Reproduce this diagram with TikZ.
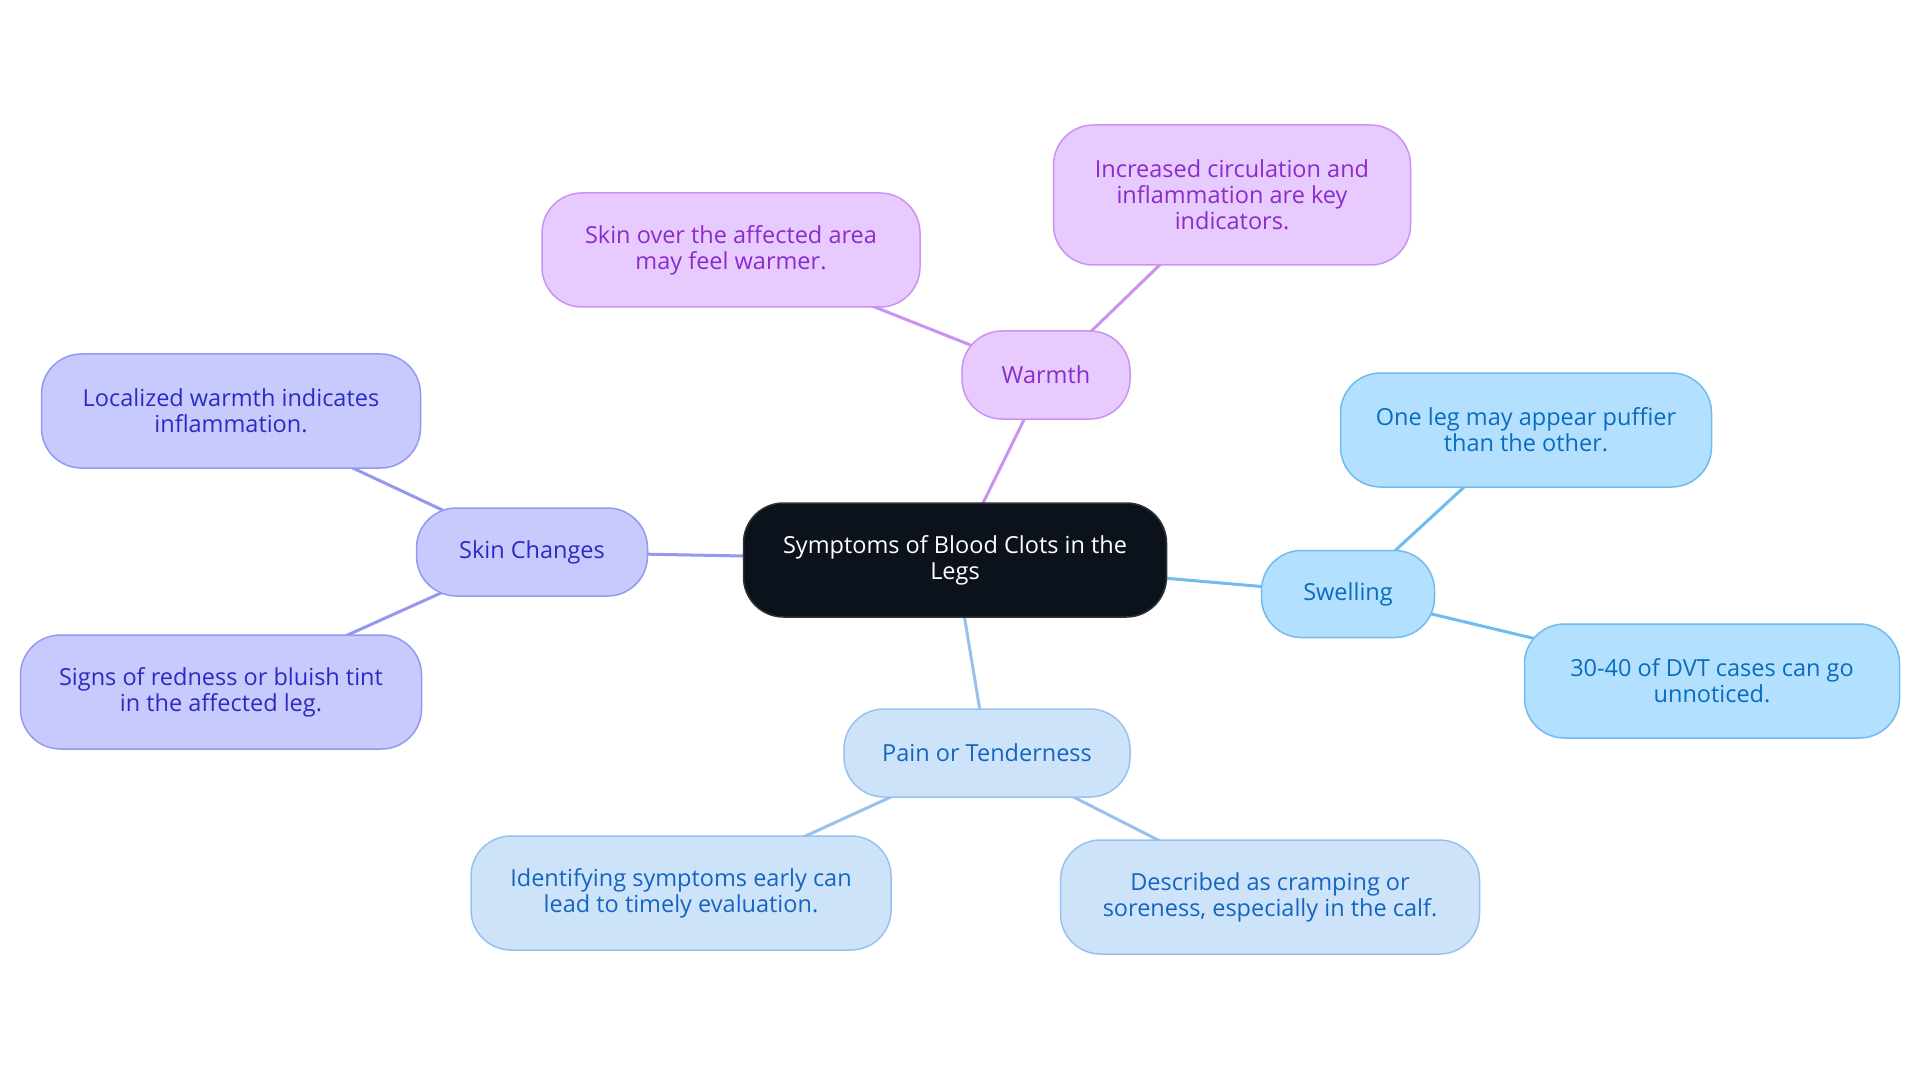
\documentclass[tikz,border=0pt]{standalone}
\usepackage{fontspec}
\setmainfont{Open Sans}
\usetikzlibrary{backgrounds}
\definecolor{cfill}{HTML}{0C121B}
\definecolor{wfill}{HTML}{E8CBFE}
\definecolor{wdraw}{HTML}{CB92F2}
\definecolor{wtext}{HTML}{8A2BCB}
\definecolor{sfill}{HTML}{B3E0FE}
\definecolor{sdraw}{HTML}{70BBEF}
\definecolor{stext}{HTML}{0A6CBE}
\definecolor{kfill}{HTML}{C8CAFE}
\definecolor{kdraw}{HTML}{9598EF}
\definecolor{ktext}{HTML}{2B2BC2}
\definecolor{pfill}{HTML}{CDE3FA}
\definecolor{pdraw}{HTML}{98C2EE}
\definecolor{ptext}{HTML}{1565C0}
\tikzset{
  box/.style={rounded corners=40pt, line width=1.5pt, align=center, inner sep=0pt,
    font=\fontsize{23.5}{26}\selectfont},
  center/.style={box, fill=cfill, draw=cfill!70!gray, text=white},
  warm/.style={box, fill=wfill, draw=wdraw, text=wtext},
  swel/.style={box, fill=sfill, draw=sdraw, text=stext},
  skin/.style={box, fill=kfill, draw=kdraw, text=ktext},
  pain/.style={box, fill=pfill, draw=pdraw, text=ptext},
  wline/.style={draw=wdraw, line width=3pt},
  sline/.style={draw=sdraw, line width=3pt},
  kline/.style={draw=kdraw, line width=3pt},
  pline/.style={draw=pdraw, line width=3pt},
}
\begin{document}
\begin{tikzpicture}[x=1pt,y=-1pt]
\useasboundingbox (0,0) rectangle (1920,1083);

\node[center, minimum width=423pt, minimum height=114pt] (c) at (955,560) {Symptoms of Blood Clots in the\\Legs};
\node[warm, minimum width=168pt, minimum height=88pt] (w) at (1046,375) {Warmth};
\node[warm, minimum width=378pt, minimum height=114pt] (w1) at (731,250) {Skin over the affected area\\may feel warmer.};
\node[warm, minimum width=357pt, minimum height=140pt] (w2) at (1232,195) {Increased circulation and\\inflammation are key\\indicators.};
\node[skin, minimum width=231pt, minimum height=88pt] (k) at (532,552) {Skin Changes};
\node[skin, minimum width=379pt, minimum height=114pt] (k1) at (231,411) {Localized warmth indicates\\inflammation.};
\node[skin, minimum width=401pt, minimum height=114pt] (k2) at (221,692) {Signs of redness or bluish tint\\in the affected leg.};
\node[swel, minimum width=173pt, minimum height=87pt] (s) at (1348,594) {Swelling};
\node[swel, minimum width=371pt, minimum height=114pt] (s1) at (1526,430) {One leg may appear puffier\\than the other.};
\node[swel, minimum width=375pt, minimum height=114pt] (s2) at (1712,681) {30-40 of DVT cases can go\\unnoticed.};
\node[pain, minimum width=286pt, minimum height=88pt] (p) at (987,753) {Pain or Tenderness};
\node[pain, minimum width=420pt, minimum height=114pt] (p1) at (681,893) {Identifying symptoms early can\\lead to timely evaluation.};
\node[pain, minimum width=419pt, minimum height=114pt] (p2) at (1270,897) {Described as cramping or\\soreness, especially in the calf.};

\begin{scope}[on background layer]
\fill[white] (0,0) rectangle (1920,1083);
\draw[wline] (c.center) -- (w.center);
\draw[wline] (w.center) -- (w1.center);
\draw[wline] (w.center) -- (w2.center);
\draw[kline] (c.center) -- (k.center);
\draw[kline] (k.center) -- (k1.center);
\draw[kline] (k.center) -- (k2.center);
\draw[sline] (c.center) -- (s.center);
\draw[sline] (s.center) -- (s1.center);
\draw[sline] (s.center) -- (s2.center);
\draw[pline] (c.center) -- (p.center);
\draw[pline] (p.center) -- (p1.center);
\draw[pline] (p.center) -- (p2.center);
\end{scope}
\end{tikzpicture}
\end{document}
